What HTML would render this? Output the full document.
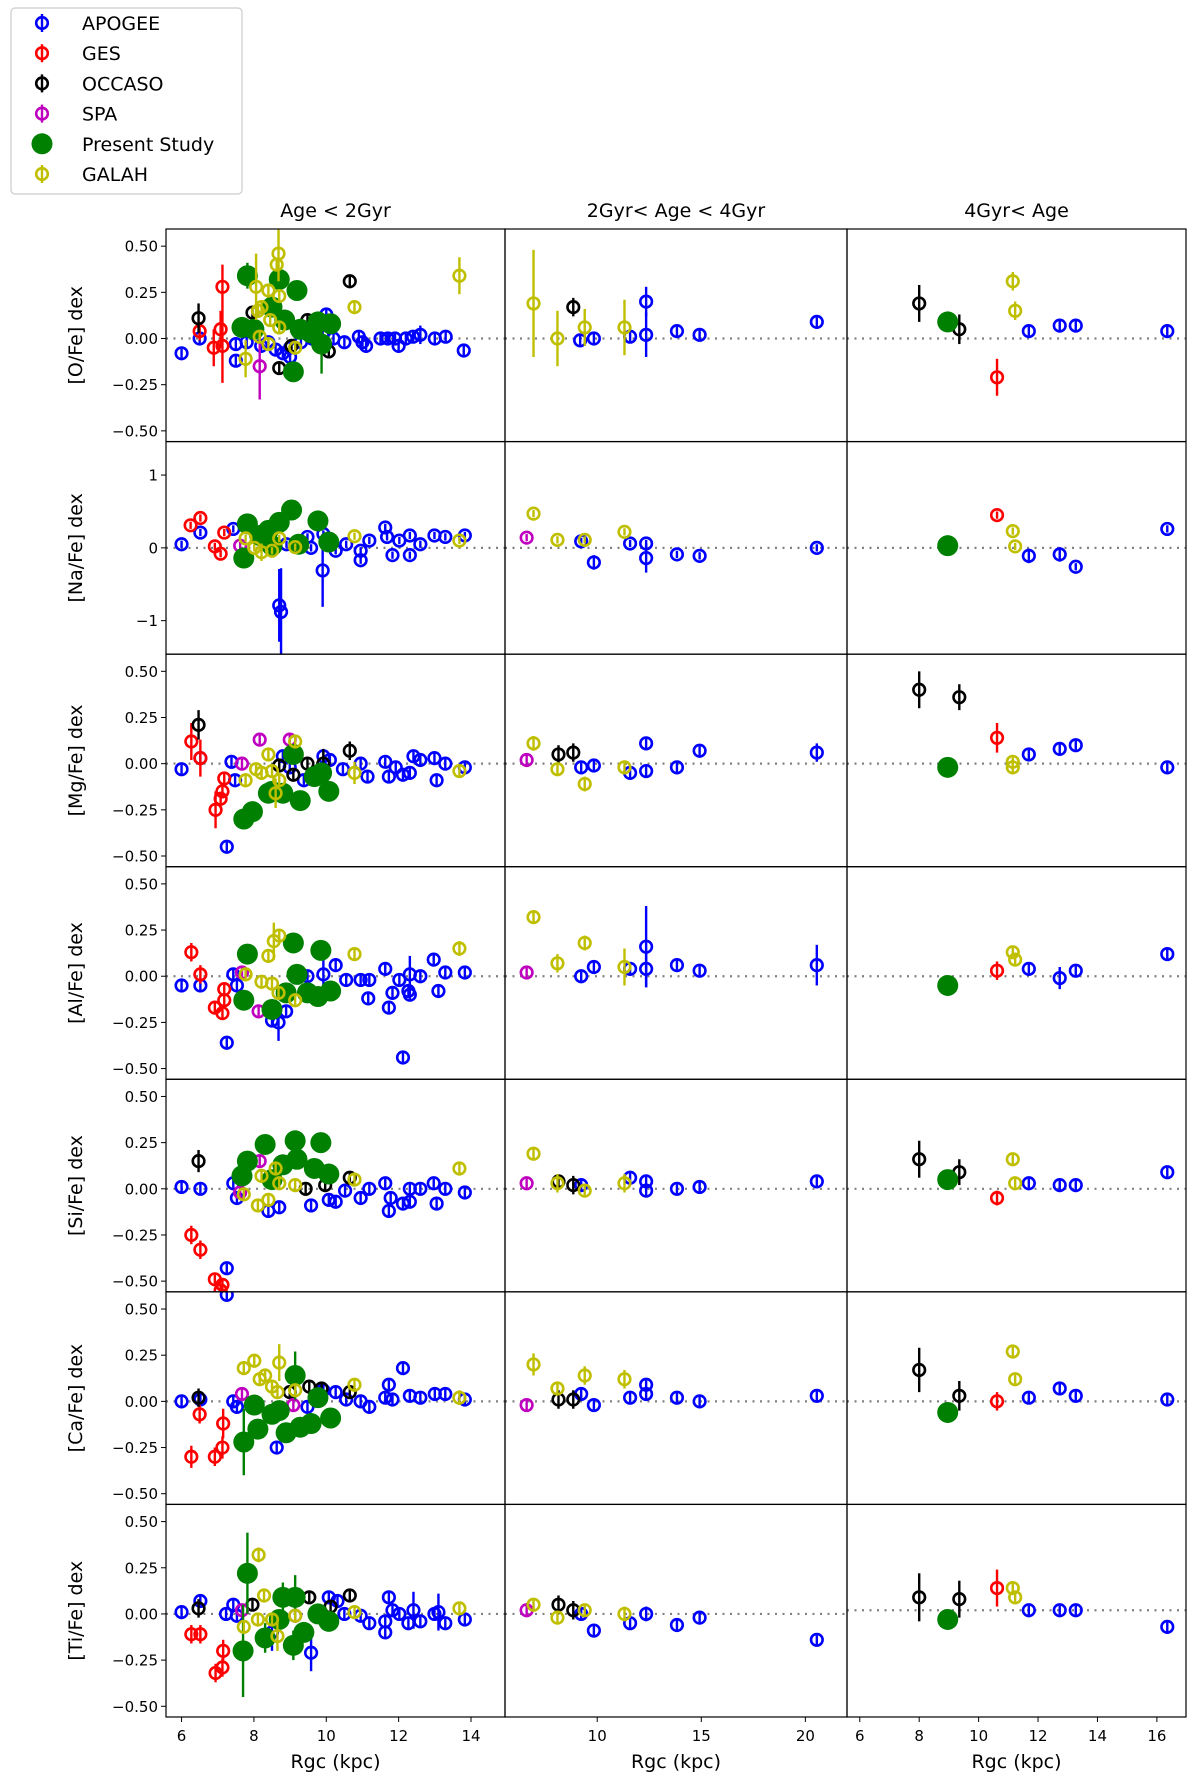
<!DOCTYPE html>
<html><head><meta charset="utf-8"><style>
body{margin:0;background:#fff}
svg text{font-family:"DejaVu Sans","Liberation Sans",sans-serif;fill:#000}
</style></head><body>
<svg id="fig" width="1200" height="1782" viewBox="0 0 1200 1782" xmlns="http://www.w3.org/2000/svg"></svg>
<script>
// Series codes: A=APOGEE, G=GES, O=OCCASO, S=SPA, P=Present Study, H=GALAH
const seriesNames = ['APOGEE','GES','OCCASO','SPA','Present Study','GALAH'];
const seriesCodes = ['A','G','O','S','P','H'];
const elements = ['O','Na','Mg','Al','Si','Ca','Ti'];
const colTitles = ['Age < 2Gyr','2Gyr< Age < 4Gyr','4Gyr< Age'];
const xTicks0 = [6,8,10,12,14];
const xTicks1 = [10,15,20];
const xTicks2 = [6,8,10,12,14,16];
const yTicks = [0.5,0.25,0,-0.25,-0.5];
const yTickLabels = ['0.50','0.25','0.00','\u22120.25','\u22120.50'];
const yTicksNa = [1,0,-1];
const yTickLabelsNa = ['1','0','\u22121'];
const refLines = [0,0,0,0,0,0,0, 0,0,0,0,0,0,0, 0,0,0,0,0,0,0.02];

const O_0 = [
['A',6.0,-0.08],['A',6.5,0.0],['A',7.5,-0.12],['A',7.5,-0.03],['A',7.8,-0.02],['A',8.2,-0.04],['A',8.4,-0.02],['A',8.6,-0.06],['A',8.8,-0.08],['A',9.0,-0.1],['A',9.0,-0.05],['A',9.3,-0.02],['A',9.6,0.0],['A',9.9,0.02],['A',10.0,0.13],['A',10.2,0.0],['A',10.5,-0.02],['A',10.9,0.01],['A',11.0,-0.02],['A',11.1,-0.04],['A',11.5,0.0],['A',11.7,0.0],['A',11.9,0.0],['A',12.0,-0.04],['A',12.2,0.0],['A',12.4,0.01],['A',12.6,0.02,0.05],['A',13.0,0.0],['A',13.3,0.01],['A',13.8,-0.065],
['G',6.5,0.04,0.05],['G',7.13,0.28,0.12],['G',7.08,0.05,0.1],['G',6.89,-0.05,0.1],['G',7.13,-0.04,0.2],
['O',6.47,0.11,0.08],['O',7.96,0.14],['O',8.7,-0.16],['O',9.48,0.1],['O',10.07,-0.07],['O',10.65,0.31,0.03],['O',9.04,-0.04],
['S',8.16,-0.15,0.18],
['P',7.82,0.34,0.07],['P',7.67,0.06],['P',8.7,0.32],['P',9.19,0.26],['P',8.85,0.1],['P',9.58,0.03],['P',9.77,0.09],['P',10.12,0.08],['P',9.87,-0.03,0.16],['P',9.09,-0.18],['P',8.5,0.17],['P',8.0,0.05],['P',9.28,0.05],
['H',8.68,0.46,0.15],['H',8.63,0.4],['H',8.06,0.28,0.18],['H',8.4,0.26],['H',8.7,0.23],['H',8.21,0.17],['H',8.11,0.15],['H',8.45,0.1],['H',8.7,0.06],['H',8.16,0.01],['H',8.4,-0.03],['H',7.77,-0.11,0.1],['H',9.14,-0.05],['H',10.78,0.17],['H',13.68,0.34,0.1]];
const O_1 = [
['A',9.18,-0.01],['A',9.84,0],['A',11.58,0.01],['A',12.35,0.2,0.08],['A',12.35,0.02,0.12],['A',13.83,0.04],['A',14.92,0.02],['A',20.55,0.09],
['O',8.85,0.17,0.05],
['H',6.94,0.19,0.29],['H',8.09,0.0,0.15],['H',9.4,0.06,0.1],['H',11.31,0.06,0.15]];
const O_2 = [
['A',11.69,0.04],['A',12.73,0.07],['A',13.27,0.07],['A',16.35,0.04],
['G',10.62,-0.21,0.1],
['O',8.0,0.19,0.1],['O',9.35,0.05,0.08],
['P',8.96,0.09],
['H',11.15,0.31,0.05],['H',11.23,0.15,0.05]];

const Na_0 = [
['A',6.0,0.05],['A',6.52,0.21],['A',7.43,0.26],['A',8.7,-0.79,0.5],['A',8.75,-0.88,0.6],['A',9.9,-0.31,0.5],['A',9.58,0],['A',10.26,-0.04],['A',10.55,0.05],['A',10.95,-0.17],['A',10.95,-0.04],['A',11.19,0.1],['A',11.63,0.28],['A',11.68,0.15],['A',11.83,-0.1],['A',12.02,0.1],['A',12.31,0.17],['A',12.31,-0.1],['A',12.6,0.05],['A',12.99,0.17],['A',13.29,0.15],['A',13.83,0.17],['A',9.92,0.19],['A',10.1,0.08],['A',9.48,0.15],['A',8.3,0.1],['A',8.9,0.05],
['G',6.25,0.31],['G',6.52,0.41],['G',7.18,0.21],['G',6.92,0.02],['G',7.08,-0.08],
['S',7.62,0.03],
['P',7.82,0.33],['P',7.72,-0.14],['P',9.04,0.52],['P',8.7,0.35],['P',8.4,0.24],['P',9.77,0.37],['P',10.07,0.08],['P',8.16,0.17],['P',9.24,0.05],['P',8.5,0.03],
['H',7.77,0.13],['H',8.21,-0.06,0.12],['H',8.5,-0.04],['H',8.7,0.13],['H',9.14,0.01],['H',10.78,0.16],['H',13.68,0.1],['H',8.01,0]];
const Na_1 = [
['A',9.23,0.09],['A',9.84,-0.2,0.1],['A',11.58,0.06],['A',12.35,0.06],['A',12.35,-0.14,0.2],['A',13.83,-0.09],['A',14.92,-0.11],['A',20.55,0],
['S',6.61,0.14],
['H',6.94,0.47],['H',8.09,0.11],['H',9.4,0.11],['H',11.31,0.22]];
const Na_2 = [
['A',11.69,-0.11,0.1],['A',12.73,-0.09,0.1],['A',13.27,-0.26],['A',16.35,0.26],
['G',10.62,0.45],
['P',8.96,0.03],
['H',11.15,0.23],['H',11.23,0.02]];

const Mg_0 = [
['A',6.0,-0.03],['A',6.52,0.03],['A',7.25,-0.45],['A',7.38,0.01],['A',7.48,-0.09],['A',8.8,0.04],['A',8.99,-0.02],['A',9.38,-0.09],['A',9.92,0.04],['A',10.1,0.02],['A',10.46,-0.03],['A',10.95,0],['A',11.14,-0.07],['A',11.63,0.01],['A',11.73,-0.07],['A',11.92,-0.02],['A',12.12,-0.06],['A',12.31,-0.05],['A',12.41,0.04],['A',12.6,0.02],['A',12.99,0.03],['A',13.05,-0.09],['A',13.29,0],['A',13.83,-0.02],
['G',6.27,0.12,0.1],['G',6.52,0.03,0.1],['G',7.18,-0.08],['G',7.13,-0.15],['G',7.08,-0.19],['G',6.94,-0.25,0.1],
['O',6.47,0.21,0.08],['O',9.48,0],['O',9.92,0,0.08],['O',9.09,-0.06],['O',10.65,0.07,0.05],['O',8.7,-0.01],
['S',8.16,0.13],['S',7.67,0],['S',8.99,0.13],
['P',7.72,-0.3],['P',7.96,-0.26],['P',8.4,-0.16],['P',9.09,0.05],['P',9.28,-0.2],['P',9.87,-0.05],['P',10.07,-0.15],['P',8.8,-0.16],['P',8.5,-0.15],['P',9.67,-0.07],
['H',8.4,0.05],['H',9.14,0.12],['H',7.77,-0.09],['H',8.21,-0.05],['H',8.6,-0.16,0.08],['H',8.7,-0.09],['H',8.5,-0.04],['H',10.78,-0.05,0.06],['H',13.68,-0.04],['H',8.06,-0.03]];
const Mg_1 = [
['A',9.23,-0.02],['A',9.84,-0.01],['A',11.58,-0.05],['A',12.35,0.11],['A',12.35,-0.04],['A',13.83,-0.02],['A',14.92,0.07],['A',20.55,0.06,0.05],
['O',8.14,0.05,0.05],['O',8.85,0.06,0.05],
['S',6.61,0.02],
['H',6.94,0.11,0.04],['H',8.09,-0.03],['H',9.4,-0.11,0.04],['H',11.31,-0.02]];
const Mg_2 = [
['A',11.69,0.05],['A',12.73,0.08],['A',13.27,0.1],['A',16.35,-0.02],
['G',10.62,0.14,0.08],
['O',8.0,0.4,0.1],['O',9.35,0.36,0.07],
['P',8.96,-0.02],
['H',11.15,0.01],['H',11.15,-0.02]];

const Al_0 = [
['A',6.0,-0.05],['A',6.52,-0.05],['A',7.25,-0.36],['A',7.43,0.01],['A',7.53,-0.05],['A',8.5,-0.24],['A',8.68,-0.25,0.1],['A',8.89,-0.19],['A',9.48,0],['A',9.92,0.01,0.12],['A',10.26,0.06],['A',10.55,-0.02],['A',10.95,-0.02],['A',11.19,-0.02],['A',11.16,-0.12],['A',11.63,0.04],['A',11.73,-0.17],['A',11.83,-0.09],['A',12.02,-0.02],['A',12.27,-0.08],['A',12.31,0.01,0.1],['A',12.31,-0.1],['A',12.12,-0.44],['A',12.6,0],['A',12.97,0.09],['A',13.1,-0.08],['A',13.29,0.02],['A',13.83,0.02],
['G',6.27,0.13,0.05],['G',6.52,0.01,0.05],['G',7.18,-0.07],['G',6.92,-0.17],['G',7.13,-0.2],['G',7.18,-0.13],
['S',7.67,0.02],['S',8.13,-0.19],
['P',7.82,0.12],['P',9.09,0.18],['P',9.85,0.14],['P',7.72,-0.13],['P',8.5,-0.18],['P',9.19,0.01],['P',9.77,-0.11],['P',10.12,-0.08],['P',8.89,-0.09],['P',9.48,-0.09],
['H',8.7,0.22],['H',8.55,0.19,0.1],['H',8.4,0.11],['H',7.77,0.01],['H',8.21,-0.03],['H',8.5,-0.04],['H',8.68,-0.09],['H',9.14,-0.13],['H',10.78,0.12],['H',13.68,0.15,0.04]];
const Al_1 = [
['A',9.23,0],['A',9.84,0.05],['A',11.58,0.04],['A',12.35,0.16,0.22],['A',12.35,0.04,0.1],['A',13.83,0.06],['A',14.92,0.03],['A',20.55,0.06,0.11],
['S',6.61,0.02],
['H',6.94,0.32],['H',8.09,0.07,0.05],['H',9.4,0.18,0.04],['H',11.31,0.05,0.1]];
const Al_2 = [
['A',11.69,0.04],['A',12.73,-0.01,0.06],['A',13.27,0.03],['A',16.35,0.12],
['G',10.62,0.03,0.05],
['P',8.96,-0.05],
['H',11.15,0.13],['H',11.23,0.09]];

const Si_0 = [
['A',6.0,0.01],['A',6.52,0],['A',7.25,-0.43],['A',7.43,0.03],['A',7.53,-0.05],['A',8.4,-0.12],['A',8.7,-0.1],['A',9.58,-0.09],['A',10.07,-0.06],['A',10.26,-0.07],['A',10.52,-0.01],['A',10.95,-0.05],['A',11.19,0],['A',11.63,0.03],['A',11.73,-0.12],['A',11.78,-0.05],['A',12.12,-0.08],['A',12.31,-0.07],['A',12.31,0],['A',12.6,0],['A',12.97,0.03],['A',13.05,-0.08],['A',13.29,0],['A',13.83,-0.02],
['G',6.27,-0.25,0.05],['G',6.52,-0.33,0.05],['G',6.92,-0.49],['G',7.13,-0.52],['G',7.08,-0.55],
['O',6.47,0.15,0.06],['O',9.43,0],['O',9.97,0.02],['O',10.65,0.06],
['S',7.62,-0.02],['S',8.16,0.15],
['P',8.31,0.24],['P',9.14,0.26],['P',9.85,0.25],['P',7.82,0.15],['P',7.67,0.07],['P',8.8,0.13],['P',9.19,0.16],['P',9.67,0.11],['P',10.07,0.08],['P',8.5,0.05],
['H',8.6,0.11],['H',8.21,0.07],['H',7.72,-0.03],['H',8.11,-0.09],['H',8.4,-0.06],['H',8.7,0.03],['H',9.14,0.02],['H',10.78,0.05],['H',13.68,0.11]];
const Si_1 = [
['A',9.23,0.02],['A',11.58,0.06],['A',12.35,0.04],['A',12.35,-0.01],['A',13.83,0],['A',14.92,0.01],['A',20.55,0.04],
['O',8.14,0.04],['O',8.85,0.02,0.05],
['S',6.61,0.03],
['H',6.94,0.19],['H',8.09,0.03,0.05],['H',9.4,-0.01],['H',11.31,0.03,0.05]];
const Si_2 = [
['A',11.69,0.03],['A',12.73,0.02],['A',13.27,0.02],['A',16.35,0.09],
['G',10.62,-0.05,0.04],
['O',8.0,0.16,0.1],['O',9.35,0.09,0.07],
['P',8.96,0.05],
['H',11.15,0.16],['H',11.23,0.03]];

const Ca_0 = [
['A',6.0,0],['A',6.52,0.01],['A',7.25,0.577],['A',7.43,0],['A',7.53,-0.03],['A',8.63,-0.25],['A',9.48,-0.03],['A',9.92,0.06],['A',10.26,0.05],['A',10.55,0.01],['A',10.95,0],['A',11.19,-0.03],['A',11.63,0.02],['A',11.73,0.09],['A',12.12,0.18],['A',11.83,0.01],['A',12.31,0.03],['A',12.6,0.02],['A',13.0,0.04],['A',13.29,0.04],['A',13.83,0.01],
['G',6.5,-0.07,0.05],['G',6.27,-0.3,0.06],['G',7.15,-0.12,0.08],['G',6.92,-0.3,0.05],['G',7.13,-0.25,0.06],
['O',6.47,0.02,0.05],['O',9.53,0.08],['O',9.87,0.07],['O',10.65,0.05],['O',8.99,0.05],
['S',7.67,0.04],['S',9.09,-0.02],
['P',7.72,-0.22,0.18],['P',8.11,-0.15],['P',8.01,-0.02],['P',9.14,0.14,0.13],['P',8.89,-0.17],['P',9.28,-0.14],['P',9.77,0.02],['P',10.12,-0.09],['P',8.5,-0.07],['P',9.58,-0.12],['P',8.7,-0.05],
['H',7.72,0.18],['H',8.01,0.22],['H',8.7,0.21,0.1],['H',8.31,0.14],['H',8.5,0.08],['H',8.65,0.05],['H',9.14,0.06],['H',10.78,0.09],['H',13.68,0.02,0.04],['H',8.16,0.12]];
const Ca_1 = [
['A',9.23,0.04],['A',9.84,-0.02],['A',11.58,0.02],['A',12.35,0.09],['A',12.35,0.04],['A',13.83,0.02],['A',14.92,0.0],['A',20.55,0.03],
['O',8.14,0.01,0.05],['O',8.85,0.01,0.05],
['S',6.61,-0.02],
['H',6.94,0.2,0.06],['H',8.09,0.07],['H',9.4,0.14,0.05],['H',11.31,0.12,0.05]];
const Ca_2 = [
['A',11.69,0.02],['A',12.73,0.07],['A',13.27,0.03],['A',16.35,0.01],
['G',10.62,0,0.05],
['O',8.0,0.17,0.12],['O',9.35,0.03,0.08],
['P',8.96,-0.06],
['H',11.15,0.27],['H',11.23,0.12]];

const Ti_0 = [
['A',6.0,0.01],['A',6.52,0.07],['A',7.23,0],['A',7.43,0.05],['A',7.53,-0.01],['A',9.58,-0.21,0.1],['A',8.5,-0.1,0.1],['A',10.07,0.09],['A',10.31,0.07],['A',10.5,0.0],['A',10.95,-0.01],['A',11.19,-0.05],['A',11.63,-0.04],['A',11.63,-0.1],['A',11.73,0.09],['A',11.83,0.02],['A',12.02,0.0],['A',12.27,-0.05],['A',12.41,0.02,0.1],['A',12.6,-0.04],['A',12.99,0.0],['A',13.1,0.01,0.1],['A',13.29,-0.05],['A',13.83,-0.03],
['G',6.27,-0.11,0.05],['G',6.52,-0.11,0.05],['G',7.15,-0.2,0.06],['G',6.94,-0.32,0.05],['G',7.13,-0.29,0.05],
['O',6.47,0.03,0.05],['O',9.53,0.09],['O',10.12,0.04],['O',10.65,0.1],['O',7.96,0.05],
['S',7.67,0.02],['S',9.14,-0.01],
['P',7.82,0.22,0.22],['P',7.7,-0.2,0.25],['P',8.31,-0.13,0.08],['P',8.8,0.09,0.08],['P',9.14,0.09,0.12],['P',9.09,-0.17,0.08],['P',9.38,-0.1],['P',9.77,0],['P',10.07,-0.04],['P',8.7,-0.03],
['H',8.13,0.32,0.04],['H',8.28,0.1],['H',7.72,-0.07],['H',8.11,-0.03],['H',8.5,-0.03],['H',8.65,-0.12,0.08],['H',9.14,-0.01],['H',10.78,0.01],['H',13.68,0.03]];
const Ti_1 = [
['A',9.23,0],['A',9.84,-0.09],['A',11.58,-0.05],['A',12.35,0,0.04],['A',13.83,-0.06],['A',14.92,-0.02],['A',20.55,-0.14],
['O',8.14,0.05,0.05],['O',8.85,0.02,0.05],
['S',6.61,0.02],
['H',6.94,0.05],['H',8.09,-0.02],['H',9.4,0.02],['H',11.31,0.0,0.04]];
const Ti_2 = [
['A',11.69,0.02],['A',12.73,0.02],['A',13.27,0.02],['A',16.35,-0.07],
['G',10.62,0.14,0.1],
['O',8.0,0.09,0.13],['O',9.35,0.08,0.1],
['P',8.96,-0.03],
['H',11.15,0.14],['H',11.23,0.09]];

const panelData = [[O_0,O_1,O_2],[Na_0,Na_1,Na_2],[Mg_0,Mg_1,Mg_2],[Al_0,Al_1,Al_2],[Si_0,Si_1,Si_2],[Ca_0,Ca_1,Ca_2],[Ti_0,Ti_1,Ti_2]];

// ---- layout (not data) ----
const NS='http://www.w3.org/2000/svg';
const svg=document.getElementById('fig');
const colX=[[166,505],[505,847],[847,1186]];
const xLims=[[5.57,14.94],[5.57,22.0],[5.57,16.98]];
const rowTop=229, rowH=212.57;
const colors={A:'#0000ff',G:'#ff0000',O:'#000000',S:'#bf00bf',P:'#008000',H:'#bfbf00'};
function mk(tag,attrs,parent){const e=document.createElementNS(NS,tag);for(const k in attrs)e.setAttribute(k,attrs[k]);(parent||svg).appendChild(e);return e;}
function xScale(c,v){const [a,b]=xLims[c];return colX[c][0]+(v-a)/(b-a)*(colX[c][1]-colX[c][0]);}
function yLim(r){return r===1?[-1.46,1.46]:[-0.558,0.593];}
function yScale(r,v){const [a,b]=yLim(r);const t=rowTop+r*rowH;return t+(b-v)/(b-a)*rowH;}

const defs=mk('defs',{});
for(let r=0;r<7;r++)for(let c=0;c<3;c++){
  const cp=mk('clipPath',{id:'cp'+r+'_'+c},defs);
  mk('rect',{x:colX[c][0],y:rowTop+r*rowH,width:colX[c][1]-colX[c][0],height:rowH},cp);
}

for(let r=0;r<7;r++){
  const top=rowTop+r*rowH;
  for(let c=0;c<3;c++){
    const g=mk('g',{'clip-path':'url(#cp'+r+'_'+c+')'});
    
    
    const ry=yScale(r,refLines[r*3+c]);
    const rl=mk('line',{x1:colX[c][0],x2:colX[c][1],y1:ry,y2:ry,stroke:'#808080','stroke-width':2.2,'stroke-dasharray':'2 5.5'},g);
    
    
    const pts=panelData[r][c];
    for(const code of seriesCodes){
      for(const p of pts){ if(p[0]!==code) continue;
        const cx=xScale(c,p[1]), cy=yScale(r,p[2]);
        const e=p.length>3?p[3]:(r===1?0.05:0.025);
        const col=colors[code];
        const eb=mk('line',{x1:cx,x2:cx,y1:yScale(r,p[2]+e),y2:yScale(r,p[2]-e),stroke:col,'stroke-width':2.4},g);
        
        
        let m;
        if(code==='P'){ m=mk('circle',{cx:cx,cy:cy,r:10.5,fill:col},g); }
        else { m=mk('circle',{cx:cx,cy:cy,r:5.8,fill:'none',stroke:col,'stroke-width':2.6},g); }
        
        
      }
    }
  }
  const tv=r===1?yTicksNa:yTicks, tl=r===1?yTickLabelsNa:yTickLabels;
  tv.forEach((v,i)=>{
    const y=yScale(r,v);
    mk('line',{x1:161,x2:166,y1:y,y2:y,stroke:'#000','stroke-width':1});
    const t=mk('text',{x:158,y:y+5.5,'text-anchor':'end','font-size':15});
    t.textContent=tl[i];
    
    
  });
  const yl=mk('text',{x:0,y:0,'text-anchor':'middle','font-size':19,transform:'translate(82,'+(top+rowH/2)+') rotate(-90)'});
  yl.textContent='['+elements[r]+'/Fe] dex';
  
  
}
for(let r=0;r<7;r++)for(let c=0;c<3;c++){
  const f=mk('rect',{x:colX[c][0],y:rowTop+r*rowH,width:colX[c][1]-colX[c][0],height:rowH,fill:'none',stroke:'#000','stroke-width':1.2});
  
  
}
const bottom=rowTop+7*rowH;
[xTicks0,xTicks1,xTicks2].forEach((ticks,c)=>{
  ticks.forEach(v=>{
    const x=xScale(c,v);
    mk('line',{x1:x,x2:x,y1:bottom,y2:bottom+5,stroke:'#000','stroke-width':1});
    const t=mk('text',{x:x,y:bottom+24,'text-anchor':'middle','font-size':15});
    t.textContent=String(v);
    
    
  });
  const mid=(colX[c][0]+colX[c][1])/2;
  const xl=mk('text',{x:mid,y:bottom+51,'text-anchor':'middle','font-size':19});
  xl.textContent='Rgc (kpc)';
  
  
  const ct=mk('text',{x:mid,y:217,'text-anchor':'middle','font-size':19});
  ct.textContent=colTitles[c];
  
  
});
const lg=mk('g',{});


mk('rect',{x:11,y:8,width:231,height:186,rx:4,fill:'#fff',stroke:'#cccccc','stroke-width':1.2},lg);
seriesCodes.forEach((code,i)=>{
  const y=23+i*30.2, col=colors[code];
  const eg=mk('g',{},lg);
  
  
  if(code==='P'){ mk('circle',{cx:42,cy:y,r:10.5,fill:col},eg); }
  else { mk('line',{x1:42,x2:42,y1:y-9,y2:y+9,stroke:col,'stroke-width':2.4},eg);
         mk('circle',{cx:42,cy:y,r:5.8,fill:'none',stroke:col,'stroke-width':2.6},eg); }
  const t=mk('text',{x:82,y:y+7,'font-size':19},eg);
  t.textContent=seriesNames[i];
});
</script>
</body></html>
